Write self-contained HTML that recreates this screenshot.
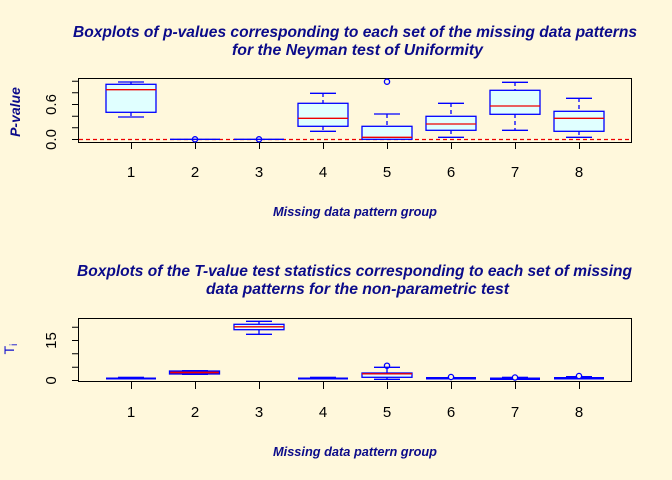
<!DOCTYPE html>
<html><head><meta charset="utf-8"><style>
html,body{margin:0;padding:0;background:#FFF8DC;}
svg{display:block;}
.t{font-family:"Liberation Sans",sans-serif;font-weight:bold;font-style:italic;fill:#0b0b8a;}
.n{font-family:"Liberation Sans",sans-serif;font-size:15px;fill:#000;}
</style></head><body>
<svg width="672" height="480" viewBox="0 0 672 480" xmlns="http://www.w3.org/2000/svg">
<rect width="672" height="480" fill="#FFF8DC"/>
<text class="t" x="73" y="37" font-size="15.5" textLength="564" lengthAdjust="spacingAndGlyphs">Boxplots of p-values corresponding to each set of the missing data patterns</text>
<text class="t" x="232" y="55" font-size="15.5" textLength="251" lengthAdjust="spacingAndGlyphs">for the Neyman test of Uniformity</text>
<text class="t" x="273" y="216" font-size="12.7" textLength="164" lengthAdjust="spacingAndGlyphs">Missing data pattern group</text>
<text class="t" x="20" y="112" font-size="14" text-anchor="middle" transform="rotate(-90 20 112)">P-value</text>

<g stroke="#000" stroke-width="1" fill="none">
<rect x="78.5" y="78.5" width="553" height="64"/>
<path d="M72 139.5H78M72 127.8H78M72 116.2H78M72 104.5H78M72 92.8H78M72 81.2H78"/>
<path d="M131.5 142V149M195.5 142V149M259.5 142V149M323.5 142V149M387.5 142V149M451.5 142V149M515.5 142V149M579.5 142V149"/>
</g>
<text class="n" x="56" y="139.5" text-anchor="middle" transform="rotate(-90 56 139.5)">0.0</text>
<text class="n" x="56" y="104.5" text-anchor="middle" transform="rotate(-90 56 104.5)">0.6</text>
<g class="n" text-anchor="middle">
<text x="131" y="177">1</text><text x="195" y="177">2</text><text x="259" y="177">3</text><text x="323" y="177">4</text><text x="387" y="177">5</text><text x="451" y="177">6</text><text x="515" y="177">7</text><text x="579" y="177">8</text>
</g>
<line x1="79" y1="139.5" x2="631" y2="139.5" stroke="#e00" stroke-width="1.2" stroke-dasharray="4,3"/>
<g stroke="#0000ff" stroke-width="1.3" fill="#E0FFFF">
<path d="M131 82V84M131 112V117" fill="none" stroke-dasharray="4,3"/>
<path d="M118 82H144M118 117H144" fill="none"/>
<rect x="106" y="84.3" width="50" height="28"/><line x1="106" y1="89.7" x2="156" y2="89.7" stroke="#e00"/>
<line x1="170" y1="139.3" x2="220" y2="139.3"/><circle cx="195" cy="139.3" r="2.6" fill="none"/>
<line x1="234" y1="139.3" x2="284" y2="139.3"/><circle cx="259" cy="139.3" r="2.6" fill="none"/>
<path d="M323 93V103M323 126V131" fill="none" stroke-dasharray="4,3"/>
<path d="M310 93.3H336M310 131.3H336" fill="none"/>
<rect x="298" y="103.3" width="50" height="23"/><line x1="298" y1="118.3" x2="348" y2="118.3" stroke="#e00"/>
<path d="M387 114V126" fill="none" stroke-dasharray="4,3"/>
<path d="M374 114H400" fill="none"/>
<circle cx="387" cy="81.7" r="2.6" fill="none"/>
<rect x="362" y="126.3" width="50" height="13"/><line x1="362" y1="137.3" x2="412" y2="137.3" stroke="#e00"/>
<path d="M451 103V116M451 130V137" fill="none" stroke-dasharray="4,3"/>
<path d="M438 103.3H464M438 137.3H464" fill="none"/>
<rect x="426" y="116.3" width="50" height="14"/><line x1="426" y1="124" x2="476" y2="124" stroke="#e00"/>
<path d="M515 82V90M515 114V130" fill="none" stroke-dasharray="4,3"/>
<path d="M502 82.3H528M502 130.3H528" fill="none"/>
<rect x="490" y="90.3" width="50" height="24"/><line x1="490" y1="106" x2="540" y2="106" stroke="#e00"/>
<path d="M579 98V111M579 131V137" fill="none" stroke-dasharray="4,3"/>
<path d="M566 98.3H592M566 137.3H592" fill="none"/>
<rect x="554" y="111.3" width="50" height="20"/><line x1="554" y1="118.3" x2="604" y2="118.3" stroke="#e00"/>
</g>

<text class="t" x="77" y="276" font-size="15.5" textLength="555" lengthAdjust="spacingAndGlyphs">Boxplots of the T-value test statistics corresponding to each set of missing</text>
<text class="t" x="206" y="294" font-size="15.5" textLength="303" lengthAdjust="spacingAndGlyphs">data patterns for the non-parametric test</text>
<text class="t" x="273" y="456" font-size="12.7" textLength="164" lengthAdjust="spacingAndGlyphs">Missing data pattern group</text>
<text x="14" y="349" font-family="Liberation Sans,sans-serif" font-size="14" fill="#0b0bcc" text-anchor="middle" transform="rotate(-90 14 349)">T<tspan font-size="10" dy="3">i</tspan></text>
<g stroke="#000" stroke-width="1" fill="none">
<rect x="78.5" y="318.5" width="553" height="63"/>
<path d="M72 380.5H78M72 367.3H78M72 353.8H78M72 340.5H78M72 327.3H78"/>
<path d="M131.5 382V389M195.5 382V389M259.5 382V389M323.5 382V389M387.5 382V389M451.5 382V389M515.5 382V389M579.5 382V389"/>
</g>
<text class="n" x="56" y="380.5" text-anchor="middle" transform="rotate(-90 56 380.5)">0</text>
<text class="n" x="56" y="340.5" text-anchor="middle" transform="rotate(-90 56 340.5)">15</text>
<g class="n" text-anchor="middle">
<text x="131" y="417">1</text><text x="195" y="417">2</text><text x="259" y="417">3</text><text x="323" y="417">4</text><text x="387" y="417">5</text><text x="451" y="417">6</text><text x="515" y="417">7</text><text x="579" y="417">8</text>
</g>
<g fill="#0000ff" stroke="none">
<rect x="106" y="377.5" width="50" height="2"/><rect x="118" y="376.7" width="26" height="2.5"/>
<rect x="298" y="377.5" width="50" height="2"/><rect x="310" y="376.7" width="26" height="2.5"/>
<rect x="426" y="377" width="50" height="2.5"/>
<rect x="490" y="377.5" width="50" height="2.5"/><rect x="502" y="376.7" width="26" height="2.5"/>
<rect x="554" y="377" width="50" height="2.5"/><rect x="566" y="376" width="26" height="3.5"/>
<rect x="182" y="370" width="26" height="5"/>
</g>
<g stroke="#0000ff" stroke-width="1.3" fill="none">
<rect x="169.5" y="371" width="50" height="3" fill="#e00"/>
<circle cx="451" cy="377" r="2.6" fill="#FFF8DC"/>
<circle cx="515" cy="377.5" r="2.6" fill="#FFF8DC"/>
<circle cx="579" cy="376" r="2.6" fill="#FFF8DC"/>
<path d="M259 321V324M259 330V334M246 321.3H272M246 334.3H272"/>
<rect x="234" y="324.3" width="50" height="5.4" fill="#E0FFFF"/>
<line x1="234" y1="326.8" x2="284" y2="326.8" stroke="#e00"/>
<circle cx="387" cy="365.7" r="2.6"/>
<path d="M387 367V373M387 377V379M374 367.3H400M374 379.3H400"/>
<rect x="362" y="373" width="50" height="4.3" fill="#E0FFFF"/>
<line x1="362" y1="373.8" x2="412" y2="373.8" stroke="#e00"/>
</g>
</svg>
</body></html>
